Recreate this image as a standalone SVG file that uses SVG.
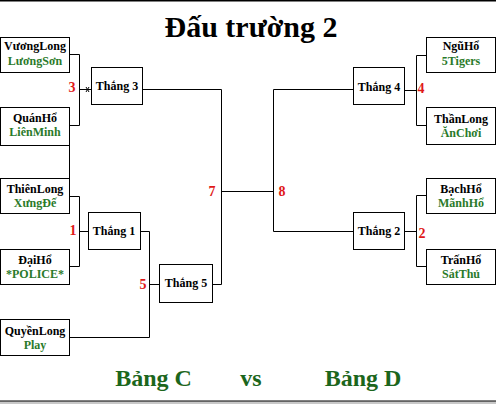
<svg xmlns="http://www.w3.org/2000/svg" width="496" height="404" viewBox="0 0 496 404">
<style>
.box{fill:#fff;stroke:#000;stroke-width:1}
.t{font-family:"Liberation Serif","Times New Roman",serif;font-weight:bold;font-size:12px;text-anchor:middle;fill:#000}
.g{fill:#2a7a2a}
.r{font-family:"Liberation Serif","Times New Roman",serif;font-weight:bold;font-size:14px;text-anchor:middle;fill:#e01818}
.ln{fill:none;stroke:#000;stroke-width:1}
.big{font-family:"Liberation Serif","Times New Roman",serif;font-weight:bold;text-anchor:middle}
</style>
<rect x="0" y="0" width="496" height="404" fill="#fff"/>
<rect x="0" y="0" width="496" height="1.5" fill="#000"/>
<rect x="0" y="401" width="496" height="3" fill="#c8c8c8"/>
<line x1="0" y1="401" x2="496" y2="401" stroke="#000" stroke-width="1"/>
<text class="big" x="251" y="37" font-size="30">Đấu trường 2</text>

<g id="connectors" class="ln">
<path d="M69.5,54.5 H79.5 V125.5 H69.5"/>
<path d="M79.5,89.5 H91.5"/>
<path d="M86,87 L89,92 M86,92 L89,87"/>
<path d="M69.5,145 V178"/>
<path d="M69.5,196.5 H79.5 V266.5 H69.5"/>
<path d="M79.5,231.5 H88.5"/>
<path d="M140.5,231.5 H149.5 V337.5 H69.5"/>
<path d="M149.5,284.5 H159.5"/>
<path d="M142.5,89.5 H221.5 V284.5 H212.5"/>
<path d="M221.5,191.5 H273.5"/>
<path d="M353.5,89.5 H273.5 V231.5 H353.5"/>
<path d="M404.5,90.5 H416.5"/>
<path d="M426.5,55.5 H416.5 V125.5 H426.5"/>
<path d="M404.5,231.5 H416.5"/>
<path d="M426.5,195.5 H416.5 V266.5 H426.5"/>
</g>

<g id="vuonglong"><rect class="box" x="0.5" y="37.5" width="69" height="35"/><text class="t" x="35" y="50">VươngLong</text><text class="t g" x="35" y="65">LươngSơn</text></g>
<g id="quanho"><rect class="box" x="0.5" y="107.5" width="69" height="38"/><text class="t" x="35" y="122">QuánHổ</text><text class="t g" x="35" y="136">LiênMinh</text></g>
<g id="thienlong"><rect class="box" x="0.5" y="178.5" width="69" height="35"/><text class="t" x="35" y="193">ThiênLong</text><text class="t g" x="35" y="207">XưngĐế</text></g>
<g id="daiho"><rect class="box" x="0.5" y="249.5" width="69" height="35"/><text class="t" x="35" y="264">ĐạiHổ</text><text class="t g" x="35" y="278">*POLICE*</text></g>
<g id="quyenlong"><rect class="box" x="0.5" y="319.5" width="69" height="36"/><text class="t" x="35" y="335">QuyềnLong</text><text class="t g" x="35" y="349">Play</text></g>

<g id="nguho"><rect class="box" x="426.5" y="37.5" width="69" height="35"/><text class="t" x="461" y="50">NgũHổ</text><text class="t g" x="461" y="65">5Tigers</text></g>
<g id="thanlong"><rect class="box" x="426.5" y="107.5" width="69" height="37"/><text class="t" x="461" y="123">ThầnLong</text><text class="t g" x="461" y="137">ĂnChơi</text></g>
<g id="bachho"><rect class="box" x="426.5" y="178.5" width="69" height="35"/><text class="t" x="461" y="193">BạchHổ</text><text class="t g" x="461" y="207">MãnhHổ</text></g>
<g id="tranho"><rect class="box" x="426.5" y="249.5" width="69" height="35"/><text class="t" x="461" y="264">TrấnHổ</text><text class="t g" x="461" y="278">SátThủ</text></g>

<g id="thang3"><rect class="box" x="91.5" y="67.5" width="51" height="37"/><text class="t" x="117" y="90">Thắng 3</text></g>
<g id="thang1"><rect class="box" x="88.5" y="212.5" width="52" height="37"/><text class="t" x="114" y="235">Thắng 1</text></g>
<g id="thang5"><rect class="box" x="159.5" y="264.5" width="53" height="38"/><text class="t" x="186" y="287">Thắng 5</text></g>
<g id="thang4"><rect class="box" x="353.5" y="67.5" width="51" height="37"/><text class="t" x="379" y="91">Thắng 4</text></g>
<g id="thang2"><rect class="box" x="353.5" y="212.5" width="51" height="37"/><text class="t" x="379" y="235">Thắng 2</text></g>

<g id="labels">
<text class="r" x="72" y="92">3</text>
<text class="r" x="73" y="235">1</text>
<text class="r" x="143" y="289">5</text>
<text class="r" x="212" y="196">7</text>
<text class="r" x="282" y="196">8</text>
<text class="r" x="421" y="93">4</text>
<text class="r" x="422" y="238">2</text>
</g>

<g id="footer" fill="#1c661c">
<text class="big" x="153.5" y="386" font-size="24">Bảng C</text>
<text class="big" x="251" y="386" font-size="24">vs</text>
<text class="big" x="363" y="386" font-size="24">Bảng D</text>
</g>
</svg>
